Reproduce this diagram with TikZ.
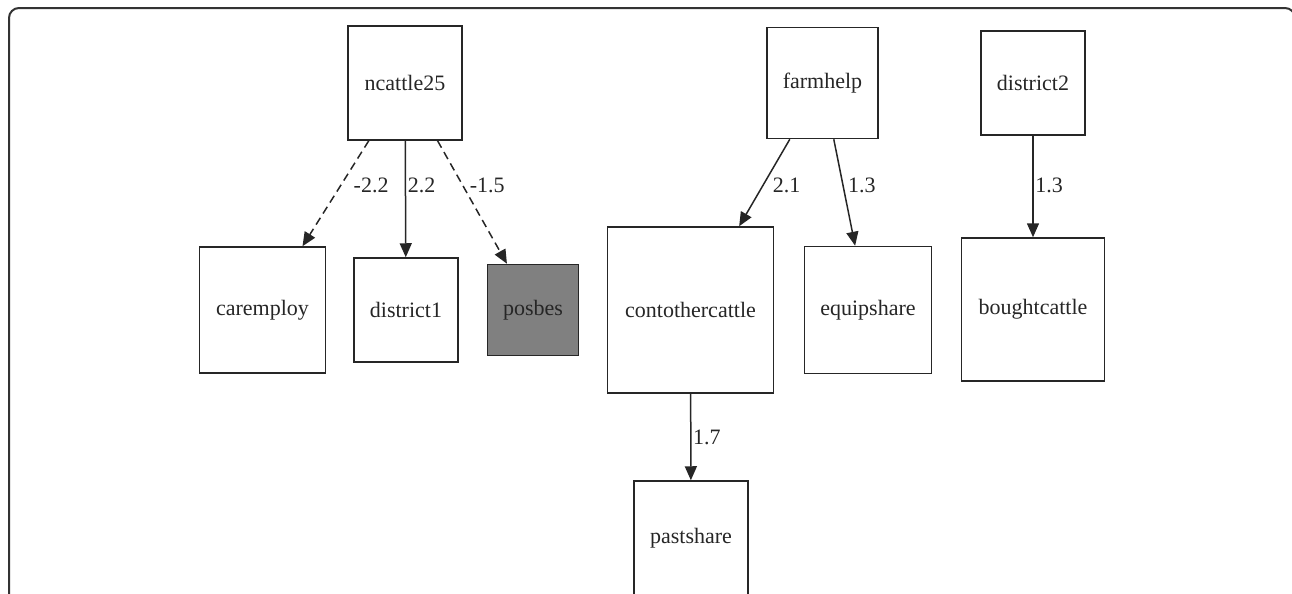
\documentclass[tikz,border=0pt]{standalone}
\usepackage{fontspec}
\setmainfont{Liberation Serif}
\usetikzlibrary{arrows.meta}
\begin{document}
\begin{tikzpicture}[x=0.5pt,y=-0.5pt,
  box/.style={draw=black!85, line width=0.75pt, rectangle, inner sep=0pt, font=\fontsize{11}{13}\selectfont, text=black!85},
  conn/.style={draw=black!85, line width=0.75pt, -{Triangle[length=7pt,width=6pt]}},
  dconn/.style={conn, dash pattern=on 4pt off 2.5pt},
  lbl/.style={anchor=west, inner sep=0pt, font=\fontsize{11}{13}\selectfont, text=black!85}]
\useasboundingbox (0,0) rectangle (1292,594);
\clip (0,0) rectangle (1292,594);
\draw[black!80, line width=1pt, rounded corners=5pt] (9,620) -- (9,8) -- (1295,8) -- (1295,620);
% nodes
\node[box, minimum width=57pt, minimum height=57pt] (ncattle) at (405,83) {ncattle25};
\node[box, minimum width=63pt, minimum height=63pt] (caremploy) at (262.5,310) {caremploy};
\node[box, minimum width=52pt, minimum height=52pt] (district1) at (406,310) {district1};
\node[box, fill=black!50, minimum width=45.5pt, minimum height=45.5pt] (posbes) at (533,310) {posbes};
\node[box, minimum width=83pt, minimum height=83pt] (contother) at (690.5,310) {contothercattle};
\node[box, minimum width=55.5pt, minimum height=55.5pt] (farmhelp) at (822.5,83) {farmhelp};
\node[box, minimum width=63.5pt, minimum height=63.5pt] (equipshare) at (868,310) {equipshare};
\node[box, minimum width=52pt, minimum height=52pt] (district2) at (1033,83) {district2};
\node[box, minimum width=71.5pt, minimum height=71.5pt] (bought) at (1033,309.5) {boughtcattle};
\node[box, minimum width=57pt, minimum height=57pt] (pastshare) at (691,538) {pastshare};
% connectors
\draw[dconn] (ncattle) -- node[lbl, pos=0.42, xshift=6pt] (l1) {-2.2} (caremploy);
\draw[conn] (ncattle) -- node[lbl, pos=0.38, xshift=0.8pt] (l2) {2.2} (district1);
\draw[dconn] (ncattle) -- node[lbl, pos=0.36, xshift=3.3pt] (l3) {-1.5} (posbes);
\draw[conn] (farmhelp) -- node[lbl, pos=0.525, xshift=4.5pt] (l4) {2.1} (contother);
\draw[conn] (farmhelp) -- node[lbl, pos=0.43, xshift=2.2pt] (l5) {1.3} (equipshare);
\draw[conn] (district2) -- node[lbl, pos=0.485, xshift=0.8pt] (l6) {1.3} (bought);
\draw[conn] (contother) -- node[lbl, pos=0.5, xshift=0.8pt] (l7) {1.7} (pastshare);
\end{tikzpicture}
\end{document}
